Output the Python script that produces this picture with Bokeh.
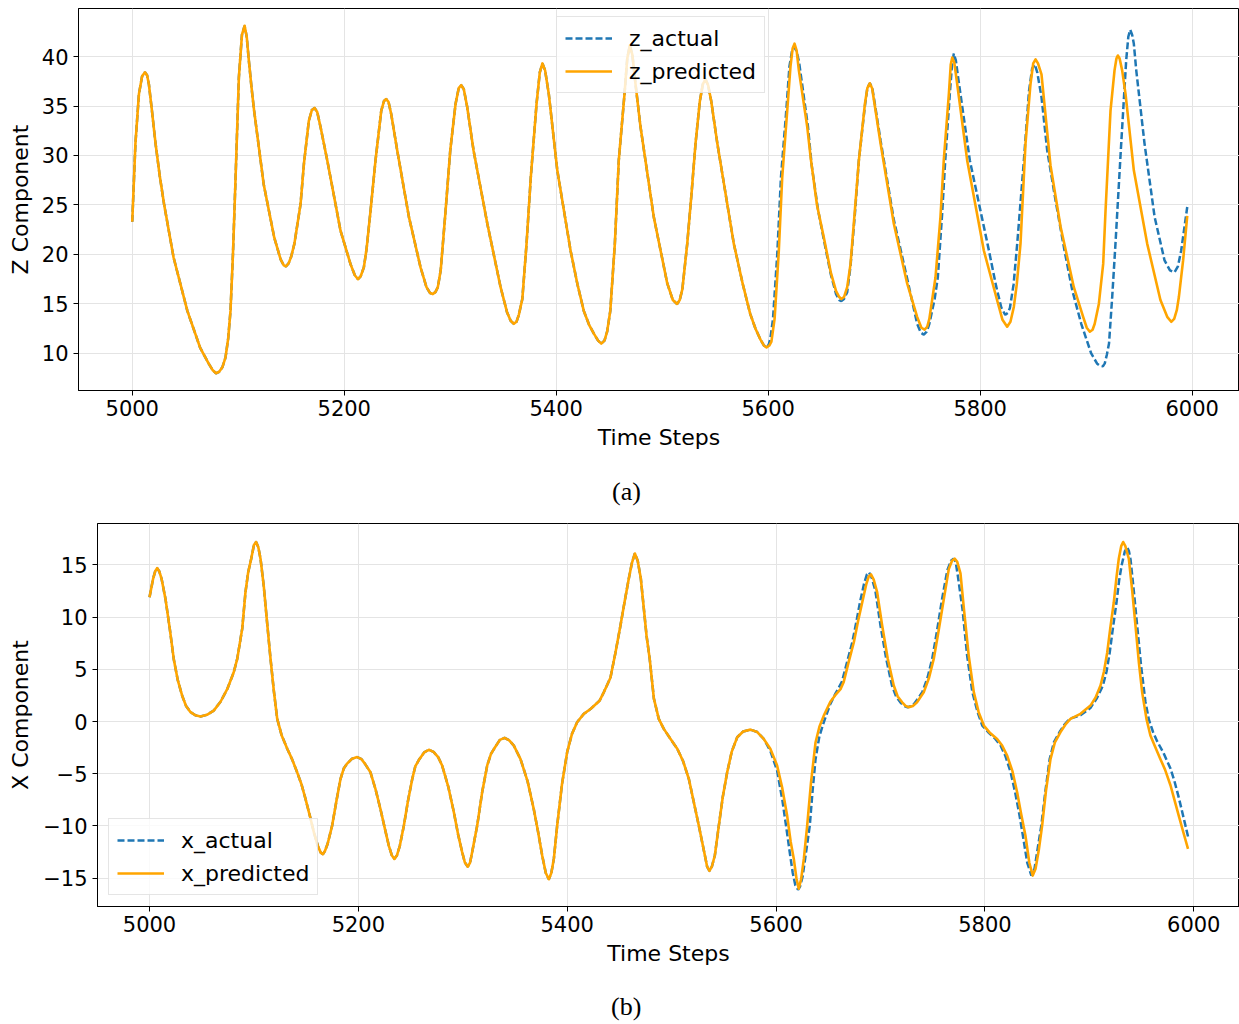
from bokeh.plotting import figure
from bokeh.layouts import column
from bokeh.models import Range1d, FixedTicker, Legend, LegendItem, LinearAxis
from bokeh.embed import file_html
from bokeh.resources import INLINE

# (time step, value) readings. "shared" = stretch where actual and predicted coincide.

z_shared = [
    (5000, 23.3), (5003, 31.2), (5006.3, 36.2), (5009.3, 38.0), (5012, 38.4), (5014, 38.1),
    (5015.7, 37.2), (5018.5, 34.6), (5022, 31.2), (5026, 27.9), (5030, 25.1), (5039, 19.7),
    (5052, 14.3), (5064, 10.6), (5072, 9.0), (5076, 8.3), (5079, 8.0), (5082, 8.15),
    (5085, 8.6), (5088, 9.6), (5090.5, 11.5), (5092.7, 14.3), (5095, 20.0), (5097.5, 27.8),
    (5100.6, 37.9), (5103.5, 42.2), (5106, 43.1), (5108, 42.0), (5110, 39.6), (5112.5, 36.9),
    (5115, 34.5), (5124, 27.1), (5134, 21.7), (5140, 19.5), (5143, 18.9), (5145, 18.8),
    (5147.5, 19.1), (5150, 19.8), (5153, 21.1), (5158.8, 25.1), (5162, 29.2), (5166.6, 33.5),
    (5169.5, 34.6), (5172, 34.8), (5174.5, 34.4), (5177.6, 32.9), (5184, 29.5), (5196.5, 22.4),
    (5206, 19.0), (5210, 17.9), (5213, 17.5), (5215.5, 17.8), (5218.5, 18.7), (5221, 20.5),
    (5224.8, 24.4), (5229.5, 29.5), (5234.9, 34.5), (5237.5, 35.5), (5239.6, 35.7), (5241.8, 35.4),
    (5244.3, 34.2), (5250, 30.5), (5261, 23.8), (5272, 18.7), (5277.6, 16.7), (5281, 16.1),
    (5283.6, 16.0), (5286, 16.2), (5288.3, 16.7), (5291, 18.4), (5295.6, 24.4), (5300, 30.5),
    (5305, 35.2), (5308, 36.8), (5310.4, 37.1), (5312.8, 36.7), (5316, 34.9), (5322, 30.5),
    (5335, 23.1), (5347.5, 16.7), (5353.5, 14.2), (5357, 13.3), (5360, 13.0), (5362.5, 13.2),
    (5364.7, 13.9), (5368, 15.5), (5372, 21.1), (5376, 27.8), (5381.4, 35.2), (5384.5, 38.4),
    (5387, 39.3), (5389.5, 38.6), (5393, 36.2), (5401, 28.5), (5413.5, 20.4), (5420, 17.0),
    (5426, 14.3), (5431, 12.9), (5435.5, 12.0), (5439.5, 11.3), (5442.5, 11.0), (5445.5, 11.3),
    (5448, 12.2), (5451, 14.3), (5455.3, 21.1), (5459, 29.5), (5464.4, 36.2), (5467, 39.8),
    (5469.4, 41.1), (5471.8, 40.2), (5474.8, 37.2), (5479.5, 32.9), (5492, 23.8), (5504.7, 17.1),
    (5510, 15.4), (5514, 15.0), (5516.5, 15.4), (5519, 16.5), (5523.6, 21.1), (5527.6, 26.1),
    (5531.4, 31.2), (5535.5, 35.5), (5538.3, 37.2), (5540.8, 37.7), (5543.3, 37.1), (5546.2, 35.5),
    (5552, 31.2), (5567.5, 21.1), (5576, 17.0), (5583, 14.0), (5588, 12.5), (5592.7, 11.4),
    (5596, 10.8), (5598.4, 10.6),
]

z_predicted_tail = [
    (5601, 10.8), (5603, 11.2), (5606, 13.5), (5610, 20.4), (5613.2, 27.8), (5617.9, 34.5),
    (5621, 39.0), (5623, 40.8), (5624.8, 41.3), (5626.8, 40.6), (5628.9, 38.6), (5636.8, 32.9),
    (5640, 29.8), (5646, 25.0), (5652.5, 21.7), (5659, 18.2), (5664, 16.3), (5667, 15.7),
    (5669, 15.5), (5671.5, 15.7), (5674.5, 16.7), (5677.6, 19.0), (5681.7, 24.4), (5685.5, 29.5),
    (5691.2, 35.2), (5693.5, 36.8), (5695.8, 37.3), (5698, 36.8), (5700.3, 35.2), (5706, 31.2),
    (5718.5, 23.1), (5731, 17.1), (5740.5, 13.7), (5744.5, 12.6), (5747.5, 12.4), (5750, 12.7),
    (5752, 13.5), (5757.8, 17.7), (5762.5, 23.8), (5765.6, 29.5), (5770.4, 36.2), (5772.2, 39.2),
    (5773.6, 39.9), (5775.5, 39.4), (5778.3, 37.2), (5787.7, 29.5), (5803.4, 20.4), (5816, 15.35),
    (5821, 13.4), (5825.4, 12.7), (5828.5, 13.2), (5831.7, 14.7), (5834.5, 17.0), (5838, 21.1),
    (5842.7, 31.2), (5847.4, 37.2), (5850, 39.3), (5852.2, 39.7), (5854.5, 39.3), (5857.8, 38.2),
    (5866.3, 29.0), (5875.8, 22.8), (5888.3, 16.7), (5897.1, 13.7), (5900.5, 12.6), (5903.4, 12.2),
    (5906, 12.4), (5908, 13.0), (5911.9, 15.0), (5916, 19.05), (5918.2, 24.4), (5922.9, 34.5),
    (5926.7, 38.6), (5928.5, 39.8), (5929.8, 40.1), (5931.5, 39.8), (5933.9, 38.6), (5937.1, 36.2),
    (5944.9, 28.5), (5957.5, 21.1), (5970, 15.4), (5976.4, 13.7), (5980.2, 13.2), (5983, 13.5),
    (5985.5, 14.4), (5987.4, 15.7), (5991.4, 19.4), (5995.3, 23.9),
]

z_actual_tail = [
    (5600.5, 10.9), (5602, 11.5), (5604.5, 13.5), (5608.5, 20.0), (5612, 27.8), (5617, 34.5),
    (5620, 39.0), (5622.5, 40.6), (5624.5, 41.0), (5626.8, 40.5), (5629, 39.5), (5637.5, 32.9),
    (5641, 29.0), (5647, 24.5), (5653, 21.2), (5659, 18.0), (5664, 16.0), (5667, 15.4),
    (5669, 15.3), (5671.5, 15.5), (5674.5, 16.2), (5677.6, 18.8), (5681.7, 24.0), (5685.5, 29.5),
    (5691.2, 35.0), (5693.5, 36.8), (5695.8, 37.3), (5698, 36.9), (5700.3, 35.4), (5706, 31.5),
    (5718.5, 23.5), (5731, 17.6), (5740.5, 13.0), (5744, 12.1), (5746.8, 11.9), (5749.5, 12.2),
    (5752, 13.0), (5757, 15.5), (5760, 17.7), (5764, 24.0), (5767, 29.5), (5771.5, 36.5),
    (5773.5, 39.3), (5775.1, 40.3), (5777, 39.6), (5779, 38.0), (5790.2, 29.5), (5808.2, 20.4),
    (5815, 16.8), (5820, 14.6), (5823.6, 13.9), (5826, 14.1), (5828, 14.6), (5831.5, 17.0),
    (5834.9, 21.1), (5841.2, 29.5), (5846, 36.5), (5849, 38.8), (5851.5, 39.2), (5853.8, 38.4),
    (5857.8, 35.9), (5863.2, 30.5), (5871, 25.5), (5879.5, 20.4), (5886.8, 16.4), (5895.3, 13.0),
    (5904.7, 10.0), (5910.4, 8.96), (5913, 8.75), (5915.7, 8.7), (5917.5, 9.0), (5919.5, 9.9),
    (5921.5, 11.0), (5924.5, 15.7), (5927.6, 21.1), (5933, 31.2), (5937.7, 39.6), (5939.7, 42.0),
    (5941.5, 42.7), (5943.3, 42.2), (5944.9, 41.3), (5947.2, 38.6), (5955, 31.2), (5964.5, 23.8),
    (5973.9, 19.4), (5979, 18.4), (5983.3, 18.2), (5986.5, 18.8), (5989.6, 20.4), (5995.3, 24.8),
]

x_shared = [
    (5000, 11.9), (5003.5, 13.7), (5005.5, 14.4), (5007.3, 14.7), (5009.3, 14.4), (5011.5, 13.7),
    (5015.3, 11.75), (5019.4, 8.9), (5023.2, 6.0), (5027, 4.0), (5031.2, 2.5), (5035, 1.5),
    (5039.3, 0.9), (5044, 0.6), (5048.8, 0.48), (5055, 0.65), (5061.5, 1.05), (5068, 1.9),
    (5074.4, 3.1), (5080.6, 4.7), (5084, 6.0), (5088.8, 8.9), (5091.9, 12.4), (5094.5, 14.3),
    (5097.4, 15.6), (5100, 16.9), (5102.1, 17.2), (5104.2, 16.7), (5106.3, 15.6), (5109.4, 13.0),
    (5112.5, 9.6), (5115.9, 6.0), (5119, 3.0), (5122.3, 0.26), (5126.5, -1.3), (5131.9, -2.6),
    (5136.5, -3.6), (5141.4, -4.86), (5145.5, -6.0), (5149.4, -7.4), (5153.5, -9.0), (5157.4, -10.6),
    (5161.5, -12.0), (5164, -12.55), (5166, -12.7), (5168, -12.4), (5170.6, -11.7), (5174.9, -9.96),
    (5179, -7.6), (5182.9, -5.5), (5186, -4.5), (5189, -4.05), (5194, -3.55), (5198.9, -3.4),
    (5203, -3.6), (5206.4, -4.05), (5211.6, -4.86), (5216.5, -6.5), (5221.2, -8.4), (5225.5, -10.3),
    (5229.2, -11.9), (5232, -12.8), (5234.5, -13.15), (5237, -12.8), (5239.7, -11.9), (5243.6, -9.96),
    (5247.5, -7.6), (5251.6, -5.5), (5254.5, -4.3), (5258.4, -3.6), (5263, -2.95), (5267.5, -2.7),
    (5272, -2.9), (5276.4, -3.4), (5280.2, -4.2), (5286, -6.2), (5291.5, -8.7), (5295.5, -10.8),
    (5299.4, -12.5), (5302, -13.5), (5304.8, -13.9), (5307, -13.5), (5309, -12.5), (5313.8, -9.96),
    (5318.5, -6.8), (5323.4, -4.2), (5327, -3.1), (5330.9, -2.46), (5335.5, -1.75), (5340, -1.56),
    (5344.5, -1.8), (5348.9, -2.3), (5355.3, -3.6), (5362, -5.7), (5368, -8.4), (5372, -10.5),
    (5376, -12.8), (5379.5, -14.5), (5382.4, -15.1), (5384.8, -14.5), (5387.2, -13.15), (5390.4, -9.96),
    (5395, -6.0), (5400, -2.9), (5404.5, -1.2), (5409.5, -0.06), (5415.9, 0.74), (5422.3, 1.2),
    (5431, 2.0), (5435, 2.8), (5441.4, 4.2), (5446.2, 6.6), (5451, 9.2), (5455, 11.5),
    (5459, 13.7), (5462, 15.2), (5464.8, 16.1), (5467.5, 15.4), (5470.5, 13.7), (5473.4, 10.8),
    (5476, 8.2), (5479, 6.0), (5483, 2.2), (5487.7, 0.26), (5492.5, -0.7), (5498.5, -1.6),
    (5505.4, -2.6), (5511, -3.8), (5516.5, -5.5), (5521.2, -7.7), (5526, -9.96), (5531.8, -12.8),
    (5534, -13.9), (5536.2, -14.3), (5538.5, -13.9), (5541.4, -12.8), (5545.2, -9.96), (5549, -7.2),
    (5553.2, -4.86), (5557.5, -2.9), (5562.8, -1.5), (5568.5, -0.95), (5575.5, -0.77), (5582, -1.0),
    (5588.2, -1.66),
]

x_predicted_tail = [
    (5594.5, -2.6), (5601, -4.2), (5606, -6.4), (5610.6, -9.0), (5614, -11.5), (5617, -13.15),
    (5619.5, -15.0), (5621.7, -16.0), (5624, -15.1), (5626.6, -13.15), (5629.8, -9.96), (5633.5, -5.8),
    (5637.8, -2.0), (5641.5, -0.5), (5645.7, 0.57), (5652, 1.9), (5656.5, 2.5), (5661.7, 3.1),
    (5664.8, 3.8), (5669, 5.5), (5674.5, 7.6), (5678.5, 9.6), (5682.5, 11.4), (5686.5, 13.2),
    (5688.8, 13.9), (5690.9, 14.1), (5693.5, 13.6), (5696.8, 12.4), (5701.6, 9.2), (5707, 6.0),
    (5712.7, 3.45), (5716.5, 2.4), (5720.8, 1.85), (5724, 1.5), (5727, 1.37), (5731, 1.5),
    (5735, 1.85), (5741.4, 2.8), (5746.5, 4.2), (5751, 6.0), (5755.5, 8.6), (5760.7, 11.75),
    (5765.4, 14.6), (5768.5, 15.4), (5771, 15.6), (5773.5, 15.3), (5776.6, 14.2), (5779.9, 10.8),
    (5784.5, 6.3), (5789.4, 2.8), (5794, 0.9), (5799, -0.38), (5805, -1.1), (5811.7, -1.66),
    (5816.5, -2.3), (5821.3, -3.26), (5826.5, -4.8), (5830.9, -6.8), (5834.8, -8.9), (5838.8, -10.9),
    (5842.5, -13.5), (5845.8, -14.75), (5848.5, -14.1), (5851.6, -12.3), (5854.8, -9.96), (5858.5, -6.6),
    (5862.8, -3.6), (5867, -2.0), (5872.4, -1.0), (5877, -0.3), (5881.9, 0.26), (5891.5, 0.74),
    (5901.1, 1.53), (5906, 2.3), (5910.7, 3.45), (5914, 4.8), (5917.1, 6.6), (5920, 8.9),
    (5923.4, 11.4), (5926, 13.8), (5928.2, 15.6), (5930.5, 16.8), (5932.4, 17.2), (5934.5, 16.8),
    (5937.8, 15.6), (5941, 12.6), (5944.2, 9.2), (5947.5, 5.6), (5950.6, 2.8), (5954.7, 0.26),
    (5958.5, -1.34), (5963, -2.4), (5968.1, -3.6), (5972.5, -4.6), (5977.7, -6.1), (5981.5, -7.5),
    (5985.6, -9.0), (5990, -10.6), (5994.5, -12.2),
]

x_actual_tail = [
    (5594.5, -2.8), (5601, -4.7), (5606, -7.5), (5610.6, -10.7), (5613.5, -12.8), (5616, -14.5),
    (5618.5, -15.7), (5621, -16.1), (5623, -15.8), (5625.5, -14.8), (5629, -12.3), (5632.3, -9.96),
    (5635, -6.6), (5637.8, -3.6), (5641.5, -1.4), (5645.7, -0.06), (5652, 1.7), (5657, 2.7),
    (5663, 3.8), (5667.5, 5.5), (5673, 7.6), (5677, 9.6), (5680.5, 11.5), (5684.5, 13.3),
    (5687, 14.1), (5689, 14.3), (5691.5, 13.8), (5695, 12.6), (5700, 9.2), (5705.5, 6.0),
    (5711, 3.45), (5715, 2.4), (5719, 1.85), (5722.5, 1.5), (5726, 1.37), (5730, 1.5),
    (5733, 1.8), (5740, 2.8), (5745, 4.2), (5749.5, 6.0), (5754, 8.6), (5759, 11.75),
    (5764, 14.5), (5767.5, 15.4), (5770, 15.6), (5772, 15.3), (5774, 14.0), (5778.5, 10.8),
    (5783, 6.3), (5788, 2.8), (5793, 0.9), (5797.5, -0.38), (5804, -1.1), (5810, -1.66),
    (5815, -2.3), (5819.5, -3.26), (5824.5, -4.8), (5829, -6.8), (5833, -8.9), (5836.5, -11.0),
    (5840.5, -13.5), (5844.5, -14.75), (5847.5, -14.1), (5850, -12.5), (5854, -9.96), (5858, -6.6),
    (5862, -3.6), (5866, -2.0), (5871.5, -1.0), (5876, -0.3), (5881, 0.26), (5891.5, 0.6),
    (5901, 1.3), (5907, 2.2), (5913, 3.45), (5916.5, 4.8), (5919.5, 6.6), (5922.5, 8.9),
    (5926, 11.4), (5928.5, 13.5), (5931, 15.0), (5934, 16.3), (5936.2, 16.7), (5938, 16.3),
    (5939.5, 15.5), (5942.5, 12.6), (5945.8, 9.2), (5949.5, 5.4), (5953.7, 1.9), (5957, 0.2),
    (5961, -1.0), (5965, -1.9), (5971, -3.0), (5977.7, -4.5), (5981.5, -5.7), (5985.7, -7.3),
    (5990, -9.1), (5994.5, -11.0),
]

time_ticks = [5000, 5200, 5400, 5600, 5800, 6000]
z_ticks = [10, 15, 20, 25, 30, 35, 40]
x_ticks = [-15, -10, -5, 0, 5, 10, 15]

ACTUAL = "#1f77b4"
PRED = "#ffa500"
FONT = "DejaVu Sans"
NBSP = "\u00a0"


def unzip(pairs):
    return [p[0] for p in pairs], [p[1] for p in pairs]


def style(p, ylabel, yticks, label_standoff):
    p.outline_line_color = "black"
    p.outline_line_width = 1
    p.outline_line_alpha = 1
    p.xaxis.ticker = FixedTicker(ticks=time_ticks)
    p.yaxis.ticker = FixedTicker(ticks=yticks)
    p.yaxis.major_label_overrides = {v: str(v).replace("-", "\u2212") for v in yticks}
    p.xaxis.axis_label = "Time Steps"
    p.yaxis.axis_label = ylabel
    for ax in p.axis:
        ax.axis_line_color = "black"
        ax.major_tick_line_color = "black"
        ax.major_tick_out = 5
        ax.major_tick_in = 0
        ax.minor_tick_line_color = None
        ax.major_label_text_font = FONT
        ax.major_label_text_font_size = "21px"
        ax.major_label_text_color = "black"
        ax.axis_label_text_font = FONT
        ax.axis_label_text_font_size = "22px"
        ax.axis_label_text_font_style = "normal"
        ax.axis_label_text_color = "black"
    p.xaxis.major_label_standoff = 4
    p.xaxis.axis_label_standoff = 6
    p.yaxis.major_label_standoff = 5
    p.yaxis.axis_label_standoff = label_standoff
    p.grid.grid_line_color = "#e4e4e4"
    p.grid.grid_line_width = 1


def add_legend(p, items, loc):
    leg = Legend(items=items, location=loc)
    leg.label_text_font = FONT
    leg.label_text_font_size = "22px"
    leg.label_text_color = "black"
    leg.glyph_width = 47
    leg.glyph_height = 26
    leg.label_height = 26
    leg.label_standoff = 17
    leg.spacing = 7
    leg.padding = 8
    leg.margin = 0
    leg.border_line_color = "#cccccc"
    leg.border_line_width = 1
    leg.background_fill_color = "white"
    leg.background_fill_alpha = 0.8
    p.add_layout(leg)


def add_caption(p, text, pad, standoff):
    # a bare, tick-less axis under the time axis carries the sub-figure caption;
    # trailing no-break spaces move the centred caption a little to the left
    cap = LinearAxis(axis_label=text + NBSP * pad, ticker=FixedTicker(ticks=[]),
                     axis_line_color=None, major_tick_line_color=None,
                     minor_tick_line_color=None, major_tick_out=0, major_tick_in=0,
                     major_label_text_font_size="0px",
                     axis_label_standoff=standoff,
                     axis_label_text_font="Liberation Serif",
                     axis_label_text_font_size="26px",
                     axis_label_text_font_style="normal",
                     axis_label_text_color="black")
    p.add_layout(cap, "below")


def draw(p, shared, actual_tail, predicted_tail):
    ta, va = unzip(shared + actual_tail)
    tp, vp = unzip(shared + predicted_tail)
    ra = p.line(ta, va, line_color=ACTUAL, line_width=2.5, line_dash="7 3")
    rp = p.line(tp, vp, line_color=PRED, line_width=2.6, line_join="round")
    return ra, rp


# ---- (a) Z component ----
p1 = figure(width=1239, height=508, output_backend="svg", toolbar_location=None,
            x_range=Range1d(4949.3, 6044.6), y_range=Range1d(6.26, 44.85),
            min_border_left=78, min_border_right=0, min_border_top=8, min_border_bottom=118)
r1a, r1p = draw(p1, z_shared, z_actual_tail, z_predicted_tail)
style(p1, "Z Component", z_ticks, 6)
add_legend(p1, [LegendItem(label="z_actual", renderers=[r1a]),
                LegendItem(label="z_predicted", renderers=[r1p])], (478, 297))
add_caption(p1, "(a)", 10, 24)

# ---- (b) X component ----
p2 = figure(width=1239, height=516, output_backend="svg", toolbar_location=None,
            x_range=Range1d(4950.2, 6043.8), y_range=Range1d(-17.71, 18.97),
            min_border_left=97, min_border_right=0, min_border_top=15, min_border_bottom=118)
r2a, r2p = draw(p2, x_shared, x_actual_tail, x_predicted_tail)
style(p2, "X Component", x_ticks, 7)
add_legend(p2, [LegendItem(label="x_actual", renderers=[r2a]),
                LegendItem(label="x_predicted", renderers=[r2p])], (11, 11))
add_caption(p2, "(b)", 13, 23)

layout = column(column(p1), column(p2), spacing=0)
open("out.html", "w").write(file_html(layout, INLINE))
